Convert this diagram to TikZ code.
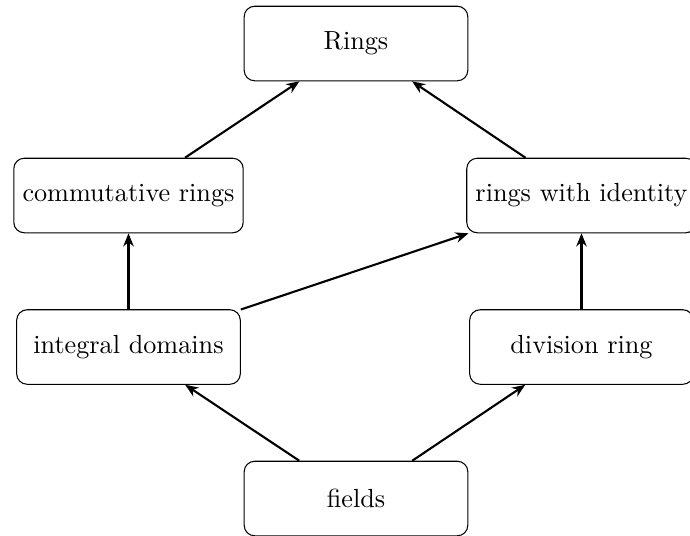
\documentclass[tikz,border=0pt]{standalone}
\usetikzlibrary{arrows.meta}
\begin{document}
\begin{tikzpicture}[x=0.3817pt,y=-0.3817pt,
  box/.style={draw, rounded corners=4pt, minimum width=3cm, minimum height=1cm, inner sep=3.33pt, font=\normalsize},
  arr/.style={-{Stealth[length=5pt,width=4pt]}, thick}]
\useasboundingbox (0,0) rectangle (690,535);
\node[box] (rings) at (356,43.5) {Rings};
\node[box] (comm) at (128.5,195.5) {commutative rings};
\node[box] (ident) at (581.5,195.5) {rings with identity};
\node[box] (integ) at (128.5,347) {integral domains};
\node[box] (div) at (581.5,347) {division ring};
\node[box] (fields) at (356,498.5) {fields};
\draw[arr] (comm) -- (rings);
\draw[arr] (ident) -- (rings);
\draw[arr] (integ) -- (comm);
\draw[arr] (integ) -- (ident);
\draw[arr] (div) -- (ident);
\draw[arr] (fields) -- (integ);
\draw[arr] (fields) -- (div);
\end{tikzpicture}
\end{document}
